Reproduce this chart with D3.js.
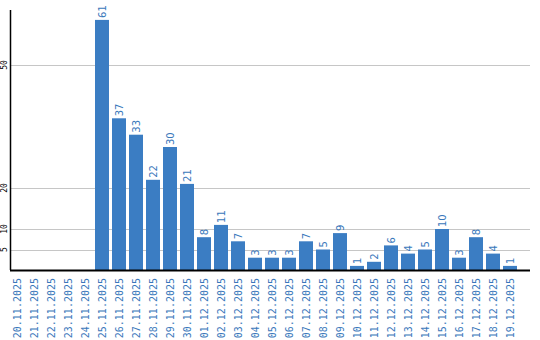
<!DOCTYPE html>
<html><head><meta charset="utf-8">
<script src="https://cdn.jsdelivr.net/npm/d3@7"></script>
<style>body{margin:0;background:#fff}svg{display:block}</style>
</head><body>
<script>
const dates = ["20.11.2025","21.11.2025","22.11.2025","23.11.2025","24.11.2025","25.11.2025","26.11.2025","27.11.2025","28.11.2025","29.11.2025","30.11.2025","01.12.2025","02.12.2025","03.12.2025","04.12.2025","05.12.2025","06.12.2025","07.12.2025","08.12.2025","09.12.2025","10.12.2025","11.12.2025","12.12.2025","13.12.2025","14.12.2025","15.12.2025","16.12.2025","17.12.2025","18.12.2025","19.12.2025"];
const values = [0,0,0,0,0,61,37,33,22,30,21,8,11,7,3,3,3,7,5,9,1,2,6,4,5,10,3,8,4,1];
const yTicks = [5,10,20,50];

(function(){
const W = 540, H = 340;
const svg = d3.select("body").append("svg").attr("width", W).attr("height", H);
const mLeft = 10.5, mRight = 530, mTop = 10, mBottom = 270;
const x = d3.scaleBand().domain(dates).range([10, 517]).paddingInner(3/17).paddingOuter(0);
const y = d3.scaleLinear().domain([0, (mBottom - mTop) / 4.1]).range([mBottom, mTop]);

svg.append("g").selectAll("line").data(yTicks).join("line")
  .attr("x1", mLeft).attr("x2", mRight)
  .attr("y1", d => Math.round(y(d)) + 0.5).attr("y2", d => Math.round(y(d)) + 0.5)
  .attr("stroke", "#c6c6c6").attr("stroke-width", 1);

svg.append("g").selectAll("text").data(yTicks).join("text")
  .attr("transform", d => `translate(7,${y(d)}) rotate(-90)`)
  .attr("text-anchor", "middle")
  .attr("font-family", "DejaVu Sans Mono").attr("font-size", 8)
  .attr("fill", "#000").text(d => d);

svg.append("g").selectAll("rect").data(values).join("rect")
  .attr("x", (d, i) => x(dates[i]))
  .attr("width", x.bandwidth())
  .attr("y", d => y(d))
  .attr("height", d => mBottom - y(d))
  .attr("fill", "#3b7dc3");

svg.append("g").selectAll("text").data(values.map((v, i) => [v, i]).filter(d => d[0] > 0)).join("text")
  .attr("transform", d => `translate(${x(dates[d[1]]) + x.bandwidth() / 2 + 3.5},${y(d[0]) - 2}) rotate(-90)`)
  .attr("font-family", "DejaVu Sans").attr("font-size", 10)
  .attr("fill", "#3a78bb").text(d => d[0]);

svg.append("line").attr("x1", mLeft).attr("x2", mLeft).attr("y1", mTop).attr("y2", mBottom)
  .attr("stroke", "#000").attr("stroke-width", 1.5);
svg.append("line").attr("x1", mLeft - 0.5).attr("x2", mRight).attr("y1", mBottom + 0.5).attr("y2", mBottom + 0.5)
  .attr("stroke", "#000").attr("stroke-width", 2);

svg.append("g").selectAll("text").data(dates).join("text")
  .attr("transform", d => `translate(${x(d) + x.bandwidth() / 2 + 3.5},278) rotate(-90)`)
  .attr("text-anchor", "end")
  .attr("font-family", "DejaVu Sans Mono").attr("font-size", 10)
  .attr("fill", "#3a78bb").text(d => d);
})();
</script>
</body></html>
